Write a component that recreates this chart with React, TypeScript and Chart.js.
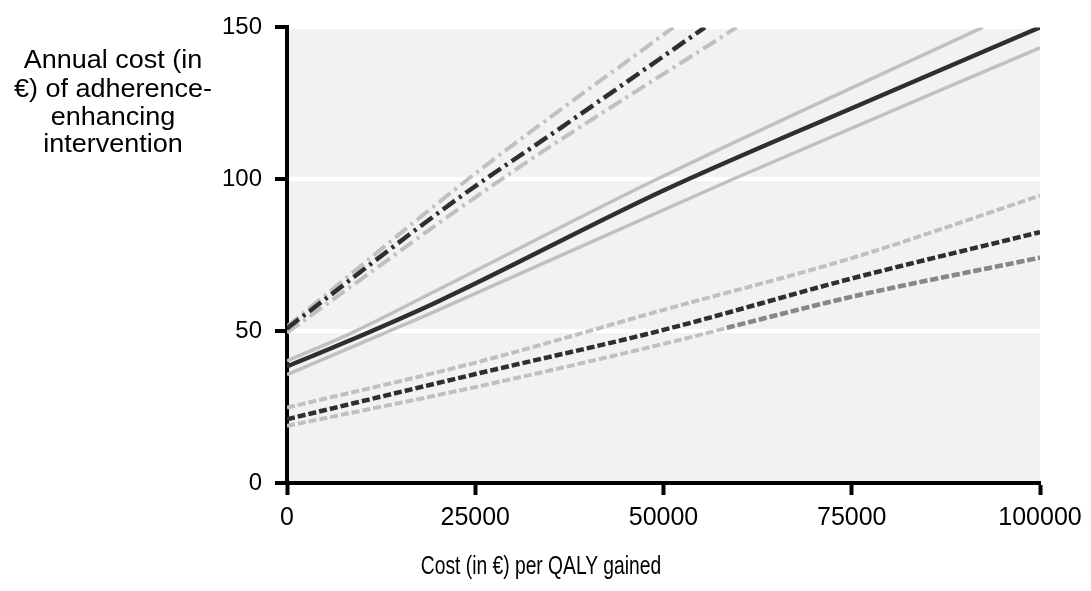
import React, { useEffect, useRef } from "react";
import { Chart, registerables } from "chart.js";

Chart.register(...registerables);

// ---- data ----
const xTicks = [0, 25000, 50000, 75000, 100000];
const yTicks = [0, 50, 100, 150];

const yTitleLines = ["Annual cost (in", "€) of adherence-", "enhancing", "intervention"];
const xTitle = "Cost (in €) per QALY gained";

// dash-dot group
const dashDotDarkX = [0, 22500, 36500, 55500];
const dashDotDarkY = [50.9, 93.3, 117.2, 150];
const dashDotUpperX = [0, 24500, 51300];
const dashDotUpperY = [51.5, 100.9, 150];
const dashDotLowerX = [0, 29600, 59700];
const dashDotLowerY = [49.5, 101.9, 150];

// solid group
const solidDarkX = [0, 8400, 20000, 50000, 75000, 100000];
const solidDarkY = [38.4, 47, 59.7, 96.3, 123.4, 150];
const solidUpperX = [0, 8400, 19000, 49100, 92400];
const solidUpperY = [40.2, 49.2, 62.3, 100, 150];
const solidLowerX = [0, 19000, 59200, 100000];
const solidLowerY = [35.7, 55.8, 100, 143.3];

// dashed group
const dashedDarkX = [0, 25600, 50000, 74800, 100000];
const dashedDarkY = [21.0, 36.2, 50.4, 67.2, 82.6];
const dashedUpperX = [0, 25600, 50000, 74800, 100000];
const dashedUpperY = [24.8, 40.0, 57.0, 73.9, 94.6];
const dashedLowerX = [0, 25600, 50000, 74800, 100000];
const dashedLowerY = [18.8, 31.9, 45.8, 61.2, 74.2];
const dashedMidX = [58400, 74800, 100000];
const dashedMidY = [51.1, 61.2, 74.2];

const DARK = "#2f2f2f";
const LIGHT = "#c0c0c0";
const MID = "#878787";
const FONT = "'Liberation Sans', Arial, sans-serif";
const NARROW = "'Liberation Sans Narrow', 'Liberation Sans', Arial, sans-serif";

const pts = (xs: number[], ys: number[]) => xs.map((x, i) => ({ x, y: ys[i] }));

const bgPlugin = {
  id: "plotBg",
  beforeDraw(chart: any) {
    const { ctx, chartArea } = chart;
    ctx.save();
    ctx.fillStyle = "#f2f2f2";
    ctx.fillRect(chartArea.left, chartArea.top, chartArea.right - chartArea.left, chartArea.bottom - chartArea.top);
    ctx.restore();
  },
};

const titlePlugin = {
  id: "titles",
  afterDraw(chart: any) {
    const { ctx } = chart;
    ctx.save();
    ctx.fillStyle = "#000";
    ctx.textAlign = "center";
    ctx.textBaseline = "alphabetic";
    ctx.font = `25px ${FONT}`;
    const baselines = [68, 96.5, 124.5, 152];
    yTitleLines.forEach((line, i) => {
      ctx.save();
      ctx.translate(113, baselines[i]);
      ctx.scale(1.08, 1);
      ctx.fillText(line, 0, 0);
      ctx.restore();
    });
    ctx.save();
    ctx.font = `26px ${FONT}`;
    ctx.translate(541, 574);
    ctx.scale(0.74, 1);
    ctx.fillText(xTitle, 0, 0);
    ctx.restore();
    ctx.restore();
  },
};

export default function App() {
  const ref = useRef<HTMLCanvasElement | null>(null);

  useEffect(() => {
    if (!ref.current) return;
    const ds = (
      label: string,
      xs: number[],
      ys: number[],
      color: string,
      width: number,
      dash: number[],
      order: number
    ) => ({
      label,
      data: pts(xs, ys),
      borderColor: color,
      backgroundColor: color,
      borderWidth: width,
      borderDash: dash,
      borderCapStyle: "butt",
      pointRadius: 0,
      cubicInterpolationMode: "monotone",
      fill: false,
      order,
    });
    const dashDot = [15, 5, 3, 5];
    const dashed = [8, 3];
    const chart = new Chart(ref.current, {
      type: "line",
      data: {
        datasets: [
          ds("dashDotDark", dashDotDarkX, dashDotDarkY, DARK, 4.5, dashDot, 0),
          ds("solidDark", solidDarkX, solidDarkY, DARK, 4.5, [], 0),
          ds("dashedDark", dashedDarkX, dashedDarkY, DARK, 4.5, dashed, 0),
          ds("dashedMid", dashedMidX, dashedMidY, MID, 4.5, dashed, 1),
          ds("dashDotUpper", dashDotUpperX, dashDotUpperY, LIGHT, 4, dashDot, 2),
          ds("dashDotLower", dashDotLowerX, dashDotLowerY, LIGHT, 4, dashDot, 2),
          ds("solidUpper", solidUpperX, solidUpperY, LIGHT, 3.5, [], 2),
          ds("solidLower", solidLowerX, solidLowerY, LIGHT, 3.5, [], 2),
          ds("dashedUpper", dashedUpperX, dashedUpperY, LIGHT, 4, dashed, 2),
          ds("dashedLower", dashedLowerX, dashedLowerY, LIGHT, 4, dashed, 2),
        ] as any,
      },
      options: {
        animation: false,
        responsive: false,
        maintainAspectRatio: false,
        layout: { padding: { left: 0, right: 51, top: 23, bottom: 0 } },
        plugins: { legend: { display: false }, tooltip: { enabled: false }, title: { display: false } },
        scales: {
          x: {
            type: "linear",
            min: 0,
            max: 100000,
            afterBuildTicks: (scale: any) => {
              scale.ticks = xTicks.map((v) => ({ value: v }));
            },
            afterFit: (scale: any) => {
              scale.height = 108;
            },
            border: { display: true, color: "#000", width: 4 },
            grid: { drawOnChartArea: false, drawTicks: true, tickLength: 12, tickColor: "#000", tickWidth: 4 },
            ticks: {
              color: "#000",
              font: { family: NARROW, size: 25 },
              padding: 8,
              maxRotation: 0,
              autoSkip: false,
              callback: (v: any) => String(v),
            },
          },
          y: {
            type: "linear",
            min: 0,
            max: 150,
            afterBuildTicks: (scale: any) => {
              scale.ticks = yTicks.map((v) => ({ value: v }));
            },
            afterFit: (scale: any) => {
              scale.width = 287;
            },
            border: { display: true, color: "#000", width: 4 },
            grid: {
              color: (c: any) => (c.tick && c.tick.value === 0 ? "rgba(0,0,0,0)" : "#ffffff"),
              lineWidth: 4,
              drawTicks: true,
              tickLength: 12,
              tickColor: "#000",
              tickWidth: 4,
            },
            ticks: {
              color: "#000",
              font: { family: FONT, size: 24 },
              padding: 13,
              autoSkip: false,
              callback: (v: any) => String(v),
            },
          },
        },
      },
      plugins: [bgPlugin, titlePlugin],
    } as any);
    return () => chart.destroy();
  }, []);

  return (
    <div style={{ position: "fixed", left: 0, top: 0, width: "1091px", height: "591px", background: "#fff" }}>
      <canvas ref={ref} width={1091} height={591} style={{ width: "1091px", height: "591px", display: "block" }} />
    </div>
  );
}
